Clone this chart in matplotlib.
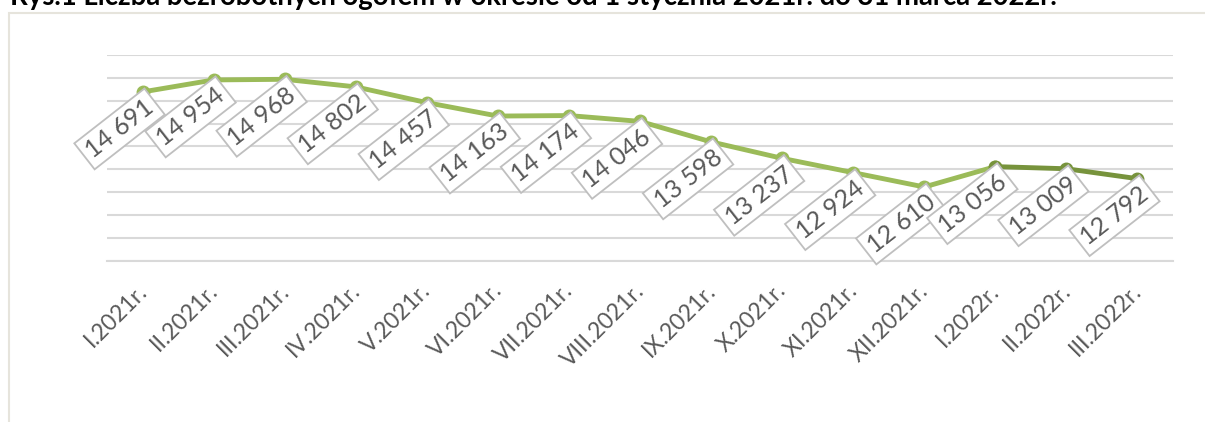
import matplotlib
matplotlib.use("Agg")
import matplotlib.pyplot as plt
from matplotlib.patches import Rectangle
from matplotlib.transforms import ScaledTranslation

categories = ["I.2021r.", "II.2021r.", "III.2021r.", "IV.2021r.", "V.2021r.",
              "VI.2021r.", "VII.2021r.", "VIII.2021r.", "IX.2021r.", "X.2021r.",
              "XI.2021r.", "XII.2021r.", "I.2022r.", "II.2022r.", "III.2022r."]
values = [14691, 14954, 14968, 14802, 14457, 14163, 14174, 14046, 13598,
          13237, 12924, 12610, 13056, 13009, 12792]
split_index = 12  # from I.2022r. the darker series starts
title = "Rys.1 Liczba bezrobotnych ogółem w okresie od 1 stycznia 2021r. do 31 marca 2022r."

light_green = "#9BBB59"
dark_green = "#77933C"
text_grey = "#595959"
grid_grey = "#D9D9D9"

plt.rcParams['font.family'] = ['Lato', 'DejaVu Sans']

W, H = 1205, 422
fig = plt.figure(figsize=(W / 100, H / 100), dpi=100)
fig.patch.set_facecolor("white")

# chart frame
fig.patches.append(Rectangle((8.5 / W, -0.05), 1.2, (H - 12.5) / H + 0.05,
                             transform=fig.transFigure, fill=False,
                             edgecolor="#E6E4DC", lw=1.5))

fig.text(10 / W, 1 - 5.5 / H, title, fontsize=19.8, fontweight="bold",
         color="black", va="baseline", ha="left")

ax = fig.add_axes([107 / W, (H - 260.5) / H, (1173 - 107) / W, (260.5 - 55) / H])
x = list(range(len(categories)))
ax.plot(x[:split_index + 1], values[:split_index + 1], color=light_green, lw=3.5,
        marker="o", markersize=9, solid_capstyle="round", zorder=3)
ax.plot(x[split_index:], values[split_index:], color=dark_green, lw=3.5,
        marker="o", markersize=9, solid_capstyle="round", zorder=4)

ax.set_xlim(-0.5, len(categories) - 0.5)
ax.set_ylim(11000, 15500)
ax.set_yticks(range(11000, 15501, 500))
ax.yaxis.grid(True, color=grid_grey, lw=1.5)
ax.set_yticklabels([])
ax.tick_params(axis="both", length=0)
for s in ["top", "right", "left"]:
    ax.spines[s].set_visible(False)
ax.spines["bottom"].set_color(grid_grey)
ax.spines["bottom"].set_linewidth(1.5)
ax.set_axisbelow(True)

ax.set_xticks(x)
ax.set_xticklabels(categories, rotation=45, ha="right", va="baseline",
                   rotation_mode="anchor", fontsize=16.5, color=text_grey)
ax.tick_params(axis="x", pad=0)
shift = ScaledTranslation(5.5 / 100, -31.5 / 100, fig.dpi_scale_trans)
for lab in ax.get_xticklabels():
    lab.set_transform(lab.get_transform() + shift)

for xi, v in zip(x, values):
    lab = f"{v:,}".replace(",", " ")
    ax.annotate(lab, (xi, v), xytext=(-23, -37), textcoords="offset pixels",
                ha="center", va="center", rotation=38, fontsize=18,
                color=text_grey, zorder=5,
                bbox=dict(boxstyle="square,pad=0.2", fc="white",
                          ec="#BFBFBF", lw=1.3))

fig.savefig("out.png", dpi=100)
